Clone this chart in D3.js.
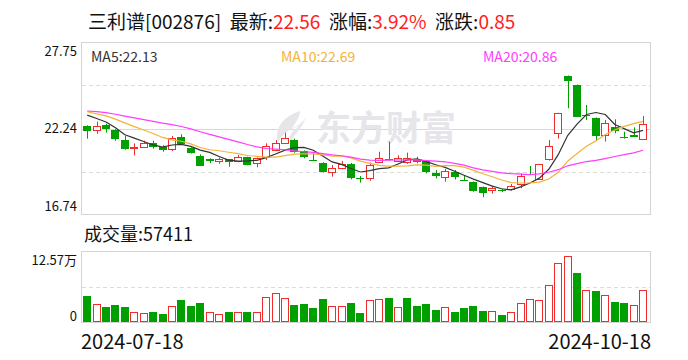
<!DOCTYPE html>
<html><head><meta charset="utf-8">
<script src="https://cdn.jsdelivr.net/npm/d3@7/dist/d3.min.js"></script>
<style>body{margin:0;background:#fff}svg{display:block}</style>
</head><body><svg id="c" width="688" height="360"></svg>
<script>
const dates = ["2024-07-18","2024-07-19","2024-07-22","2024-07-23","2024-07-24","2024-07-25","2024-07-26","2024-07-29","2024-07-30","2024-07-31",
"2024-08-01","2024-08-02","2024-08-05","2024-08-06","2024-08-07","2024-08-08","2024-08-09","2024-08-12","2024-08-13","2024-08-14","2024-08-15","2024-08-16","2024-08-19","2024-08-20","2024-08-21","2024-08-22","2024-08-23","2024-08-26","2024-08-27","2024-08-28","2024-08-29","2024-08-30",
"2024-09-02","2024-09-03","2024-09-04","2024-09-05","2024-09-06","2024-09-09","2024-09-10","2024-09-11","2024-09-12","2024-09-13","2024-09-18","2024-09-19","2024-09-20","2024-09-23","2024-09-24","2024-09-25","2024-09-26","2024-09-27","2024-09-30",
"2024-10-08","2024-10-09","2024-10-10","2024-10-11","2024-10-14","2024-10-15","2024-10-16","2024-10-17","2024-10-18"];
const opens = [22.40,22.13,22.49,22.15,21.51,21.03,21.05,21.34,21.08,20.92,21.72,20.98,20.49,20.30,20.17,20.28,20.16,20.43,20.03,20.41,20.88,21.34,21.51,20.79,20.22,20.03,19.50,19.71,19.99,19.10,19.08,20.13,20.28,20.20,20.13,20.22,20.16,19.43,19.14,19.50,18.98,18.82,18.52,18.33,18.32,18.38,18.71,19.37,19.05,20.32,21.94,25.59,25.01,23.08,22.91,21.83,22.36,21.70,21.82,21.56];
const highs = [22.45,22.68,22.55,22.20,21.77,21.30,21.47,21.47,21.19,21.77,21.88,21.05,20.60,20.35,20.40,20.30,20.56,20.45,20.40,21.30,21.51,21.98,21.60,20.85,20.75,20.10,19.92,20.18,20.05,19.22,20.07,20.77,21.40,20.54,20.71,20.45,20.24,19.60,19.67,19.60,19.22,18.88,18.55,18.59,18.40,18.71,19.39,19.86,19.99,21.51,23.25,25.62,25.05,23.74,22.95,22.79,22.83,22.04,22.32,23.04];
const lows = [21.60,21.91,21.98,21.47,20.90,20.54,21.00,20.96,20.77,20.81,21.20,20.65,19.85,20.03,20.00,19.81,20.10,19.90,19.78,20.24,20.80,21.26,20.70,20.35,20.18,19.45,19.18,19.65,19.01,18.80,18.92,20.10,20.20,20.16,19.99,20.03,19.39,19.07,18.86,19.00,18.90,18.22,17.87,18.10,18.20,18.29,18.44,19.30,19.00,20.20,21.60,23.53,22.98,22.79,21.51,21.41,21.94,21.60,21.70,21.55];
const closes = [22.10,22.40,22.19,21.56,20.96,21.05,21.34,21.08,20.88,21.62,21.26,20.70,19.88,20.17,20.30,20.11,20.41,19.94,20.35,21.13,21.30,21.62,20.77,20.41,20.20,19.50,19.71,19.99,19.11,19.07,19.92,20.35,20.24,20.37,20.35,20.24,19.50,19.22,19.54,19.14,18.95,18.25,18.12,18.44,18.30,18.57,19.22,19.35,19.99,21.13,23.21,25.29,23.00,23.04,21.77,22.59,22.10,21.67,21.71,22.56];
const volumes = [47100,33200,28500,31400,27900,19200,17500,19200,15700,29700,40200,29700,34900,19200,15700,19200,19200,19200,19200,44800,51800,43100,31400,33200,26200,41900,29700,29700,34900,17500,40200,41300,43600,27400,43600,29700,33200,22700,27400,19200,26200,29700,20900,20400,14000,19200,34900,41300,39600,65800,104200,117000,87300,57100,55900,48900,36700,34900,31400,57411];
// closes before 2024-07-18, estimated from where the MA lines start
const priorCloses = [23.2,23.5,23.6,23.3,23.4,23.5,23.3,23.2,23.5,23.6,23.7,23.5,23.6,23.4,23.4,23.5,23.3,23.4,23.2];
const priceTicks = [27.75, 22.24, 16.74];
const volTicks = [125700, 0];
const volTickLabels = ["12.57万", "0"];
const dateTickLabels = ["2024-07-18", "2024-10-18"];
const maPeriods = [5, 10, 20];
const maLabels = ["MA5:22.13", "MA10:22.69", "MA20:20.86"];
const headerParts = [["三利谱[002876]  最新:", 0], ["22.56", 1], ["  涨幅:", 0], ["3.92%", 1], ["  涨跌:", 0], ["0.85", 1]];
const volumeTitle = "成交量:57411";

const RED = "#f02c2c", GREEN = "#00a000";
const maColors = ["#333333", "#f5b23a", "#ff3cff"];
const FONT = "'Noto Sans CJK SC','Noto Sans',sans-serif";

const svg = d3.select("#c");
const P = {l: 81, r: 651, t: 42, b: 215};
const V = {t: 251, b: 323};

const x = d3.scaleBand().domain(d3.range(dates.length)).range([82.5, 647.7]);
const cx = i => x(i) + x.bandwidth() / 2;
const y = d3.scaleLinear().domain([priceTicks[2], priceTicks[0]]).range([P.b, P.t]);
const yv = d3.scaleLinear().domain([0, volTicks[0]]).range([V.b, V.t]);

// header
const ht = svg.append("text").attr("x", 88).attr("y", 29).style("font-family", FONT).style("font-size", "19px");
headerParts.forEach(([t, c]) => ht.append("tspan").text(t).attr("fill", c ? "#ff2020" : "#111").attr("xml:space", "preserve").style("white-space", "pre"));

// frames & grid
const g = svg.append("g");
g.append("rect").attr("x", P.l + 0.5).attr("y", P.t + 0.5).attr("width", P.r - P.l - 1).attr("height", P.b - P.t - 1)
  .attr("fill", "none").attr("stroke", "#d4d4d4");
g.append("rect").attr("x", P.l + 0.5).attr("y", V.t + 0.5).attr("width", P.r - P.l - 1).attr("height", V.b - V.t - 1)
  .attr("fill", "none").attr("stroke", "#d4d4d4");
const span = priceTicks[0] - priceTicks[2];
[0.25, 0.75].forEach(f => {
  const yy = Math.round(y(priceTicks[2] + span * f)) + 0.5;
  g.append("line").attr("x1", P.l + 1).attr("x2", P.r - 1).attr("y1", yy).attr("y2", yy)
    .attr("stroke", "#dcdcdc").attr("stroke-dasharray", "4,3");
});
{
  const yy = Math.round(y(priceTicks[1])) + 0.5;
  g.append("line").attr("x1", P.l + 1).attr("x2", P.r - 1).attr("y1", yy).attr("y2", yy).attr("stroke", "#d8d8d8");
  const yv2 = Math.round(yv(volTicks[0] / 2)) + 0.5;
  g.append("line").attr("x1", P.l + 1).attr("x2", P.r - 1).attr("y1", yv2).attr("y2", yv2)
    .attr("stroke", "#dcdcdc").attr("stroke-dasharray", "4,3");
}

// watermark
const wm = svg.append("g").attr("fill", "#e6e6ea");
wm.append("path").attr("d", "M300,111 C284,116 274,128 278,143 C282,134 290,128 300,126 C292,130 288,137 290,143 C296,132 304,126 306,116 C304,122 298,126 292,128 C296,122 300,117 300,111 Z");
wm.append("text").attr("x", 316).attr("y", 141).text("东方财富").style("font-family", FONT)
  .style("font-size", "35px").style("font-weight", "bold");

// axis labels
const lab = svg.append("g").style("font-family", FONT).style("font-size", "13px").attr("fill", "#111").attr("text-anchor", "end");
const priceOffsets = [9, 0, -9];
priceTicks.forEach((v, i) => lab.append("text").attr("x", 77).attr("y", y(v) + priceOffsets[i]).attr("dy", "0.35em").text(v.toFixed(2)));
const volOffsets = [9, -7];
volTicks.forEach((v, i) => lab.append("text").attr("x", 77).attr("y", yv(v) + volOffsets[i]).attr("dy", "0.35em").text(volTickLabels[i]));

// MA legend
const legX = [91, 281, 483];
maLabels.forEach((t, i) => svg.append("text").attr("x", legX[i]).attr("y", 62).text(t).attr("fill", maColors[i])
  .style("font-family", FONT).style("font-size", "14px"));

// candles
const cg = svg.append("g");
dates.forEach((d, i) => {
  const up = closes[i] > opens[i];
  const col = up ? RED : GREEN;
  const xc = Math.round(cx(i)) + 0.5;
  cg.append("line").attr("x1", xc).attr("x2", xc).attr("y1", y(highs[i])).attr("y2", y(lows[i])).attr("stroke", col);
  const top = y(Math.max(opens[i], closes[i])), bot = y(Math.min(opens[i], closes[i]));
  const x0 = Math.round(cx(i) - 4);
  if (up) {
    cg.append("rect").attr("x", x0 + 0.5).attr("y", Math.round(top) + 0.5).attr("width", 7)
      .attr("height", Math.max(1, Math.round(bot) - Math.round(top))).attr("fill", "#fff").attr("stroke", col);
  } else {
    cg.append("rect").attr("x", x0).attr("y", Math.round(top)).attr("width", 8)
      .attr("height", Math.max(1, Math.round(bot) - Math.round(top))).attr("fill", col);
  }
});

// moving averages
const allCloses = priorCloses.concat(closes);
const off = priorCloses.length;
maPeriods.forEach((n, k) => {
  const vals = closes.map((c, i) => d3.mean(allCloses.slice(i + off - n + 1, i + off + 1)));
  const line = d3.line().x((v, i) => cx(i)).y(v => y(v));
  svg.append("path").attr("d", line(vals)).attr("fill", "none").attr("stroke", maColors[k]).attr("stroke-width", 1.2);
});

// volume
svg.append("text").attr("x", 84).attr("y", 241).text(volumeTitle).attr("fill", "#111").style("font-family", FONT).style("font-size", "18px");
const vg = svg.append("g");
volumes.forEach((v, i) => {
  const prev = i > 0 ? closes[i - 1] : priorCloses[priorCloses.length - 1];
  const up = closes[i] >= prev;
  const col = up ? RED : GREEN;
  const top = Math.round(yv(v));
  const x0 = Math.round(cx(i) - 4);
  if (up) {
    vg.append("rect").attr("x", x0 + 0.5).attr("y", top + 0.5).attr("width", 7).attr("height", V.b - 1 - top - 0.5 - 0.5)
      .attr("fill", "#fff").attr("stroke", col);
  } else {
    vg.append("rect").attr("x", x0).attr("y", top).attr("width", 8).attr("height", V.b - 1 - top).attr("fill", col);
  }
});

// date labels
const dl = svg.append("g").style("font-family", FONT).style("font-size", "20px").attr("fill", "#111");
dl.append("text").attr("x", P.l).attr("y", 349).text(dateTickLabels[0]);
dl.append("text").attr("x", P.r).attr("y", 349).attr("text-anchor", "end").text(dateTickLabels[1]);
</script></body></html>
